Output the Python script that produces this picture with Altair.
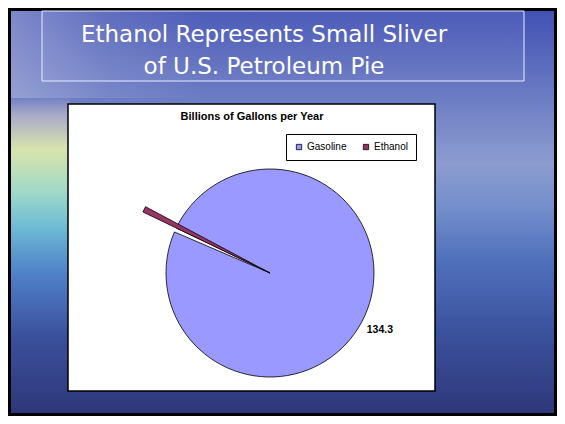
import altair as alt
import pandas as pd

# ---- data ----
categories = ["Gasoline", "Ethanol"]
values = [134.3, 0.9]
colors = ["#9999FF", "#993366"]
title_lines = ["Ethanol Represents Small Sliver", "of U.S. Petroleum Pie"]
chart_title = "Billions of Gallons per Year"

df = pd.DataFrame({"category": categories, "value": values})
one = alt.Data(values=[{"a": 1}])

W, H = 549, 408

bg = alt.Chart(one).mark_rect(
    fill=alt.Gradient(
        gradient="linear", x1=0, y1=0, x2=0, y2=1,
        stops=[
            alt.GradientStop(color="#4050b4", offset=0.0),
            alt.GradientStop(color="#5868bc", offset=0.12),
            alt.GradientStop(color="#7282c6", offset=0.25),
            alt.GradientStop(color="#8c9cd0", offset=0.38),
            alt.GradientStop(color="#7590cc", offset=0.48),
            alt.GradientStop(color="#5070bc", offset=0.62),
            alt.GradientStop(color="#3a519c", offset=0.8),
            alt.GradientStop(color="#2e3678", offset=1.0),
        ],
    )
).encode(x=alt.value(0), x2=alt.value(W), y=alt.value(0), y2=alt.value(H))

# whitish clouds at the top left
clouds = alt.Chart(one).mark_rect(
    fill=alt.Gradient(
        gradient="linear", x1=0, y1=0, x2=1, y2=0,
        stops=[
            alt.GradientStop(color="rgba(200,205,230,0.45)", offset=0.0),
            alt.GradientStop(color="rgba(200,205,230,0.15)", offset=0.5),
            alt.GradientStop(color="rgba(200,205,230,0)", offset=1.0),
        ],
    )
).encode(x=alt.value(0), x2=alt.value(200), y=alt.value(0), y2=alt.value(90))

# light band along the left horizon (mostly hidden behind the chart box)
glow = alt.Chart(one).mark_rect(
    fill=alt.Gradient(
        gradient="linear", x1=0, y1=0, x2=0, y2=1,
        stops=[
            alt.GradientStop(color="rgba(170,170,200,0)", offset=0.0),
            alt.GradientStop(color="rgba(175,175,200,0.9)", offset=0.08),
            alt.GradientStop(color="rgba(220,232,170,0.95)", offset=0.22),
            alt.GradientStop(color="rgba(160,220,200,0.95)", offset=0.4),
            alt.GradientStop(color="rgba(110,195,215,0.85)", offset=0.55),
            alt.GradientStop(color="rgba(80,140,210,0.6)", offset=0.75),
            alt.GradientStop(color="rgba(70,110,190,0)", offset=1.0),
        ],
    )
).encode(x=alt.value(0), x2=alt.value(62), y=alt.value(88), y2=alt.value(330))

frame = alt.Chart(one).mark_rect(fill=None, stroke="#000000", strokeWidth=3).encode(
    x=alt.value(1.5), x2=alt.value(W - 1.5), y=alt.value(1.5), y2=alt.value(H - 1.5)
)

title_box = alt.Chart(one).mark_rect(
    fill="rgba(255,255,255,0.06)", stroke="#e8ecff", strokeWidth=1
).encode(x=alt.value(34), x2=alt.value(516), y=alt.value(3), y2=alt.value(73))

title_text = alt.Chart(one).mark_text(
    text=title_lines, font="DejaVu Sans", fontSize=23, color="#ffffff",
    align="center", baseline="alphabetic", lineHeight=32
).encode(x=alt.value(256), y=alt.value(34))

white_box = alt.Chart(one).mark_rect(fill="#ffffff", stroke="#000000", strokeWidth=1.5).encode(
    x=alt.value(60), x2=alt.value(427), y=alt.value(96), y2=alt.value(383)
)

ctitle = alt.Chart(one).mark_text(
    text=chart_title, font="Liberation Sans", fontSize=11, fontWeight="bold",
    color="#000000", align="center", baseline="middle"
).encode(x=alt.value(244), y=alt.value(109))

theta = alt.Theta("value:Q", stack=True, scale=alt.Scale(range=[5.160, 11.4432]))
order = alt.Order("category:N", sort="descending")

pie = alt.Chart(df).mark_arc(stroke="#000000", strokeWidth=0.8).transform_calculate(
    r="datum.category == 'Ethanol' ? 141 : 104"
).encode(
    theta=theta,
    order=order,
    radius=alt.Radius("r:Q", scale=None),
    color=alt.Color(
        "category:N",
        scale=alt.Scale(domain=categories, range=colors),
        legend=alt.Legend(
            orient="none", legendX=278, legendY=126, direction="horizontal",
            title=None, symbolType="square", symbolSize=28,
            symbolStrokeColor="#000000", symbolStrokeWidth=0.8,
            labelFont="Liberation Sans", labelFontSize=10, labelColor="#000000",
            labelOffset=3, columnPadding=14, padding=8,
            strokeColor="#000000", fillColor="#ffffff",
        ),
    ),
    x=alt.value(262),
    y=alt.value(265),
)

label = alt.Chart(df).mark_text(
    font="Liberation Sans", fontSize=10.5, fontWeight="bold", color="#000000",
    align="center", baseline="middle", dx=-3, dy=6
).encode(
    theta=theta,
    order=order,
    radius=alt.value(124),
    text=alt.condition("datum.category == 'Gasoline'", alt.Text("value:Q", format=".1f"), alt.value("")),
    x=alt.value(262),
    y=alt.value(265),
)

chart = alt.layer(
    bg, clouds, glow, frame, title_box, title_text, white_box, ctitle, pie, label
).properties(
    width=W, height=H, padding=0,
    autosize=alt.AutoSizeParams(type="none"),
).configure_view(stroke=None)

chart.save("out.html", embed_options={"renderer": "svg", "actions": False})
